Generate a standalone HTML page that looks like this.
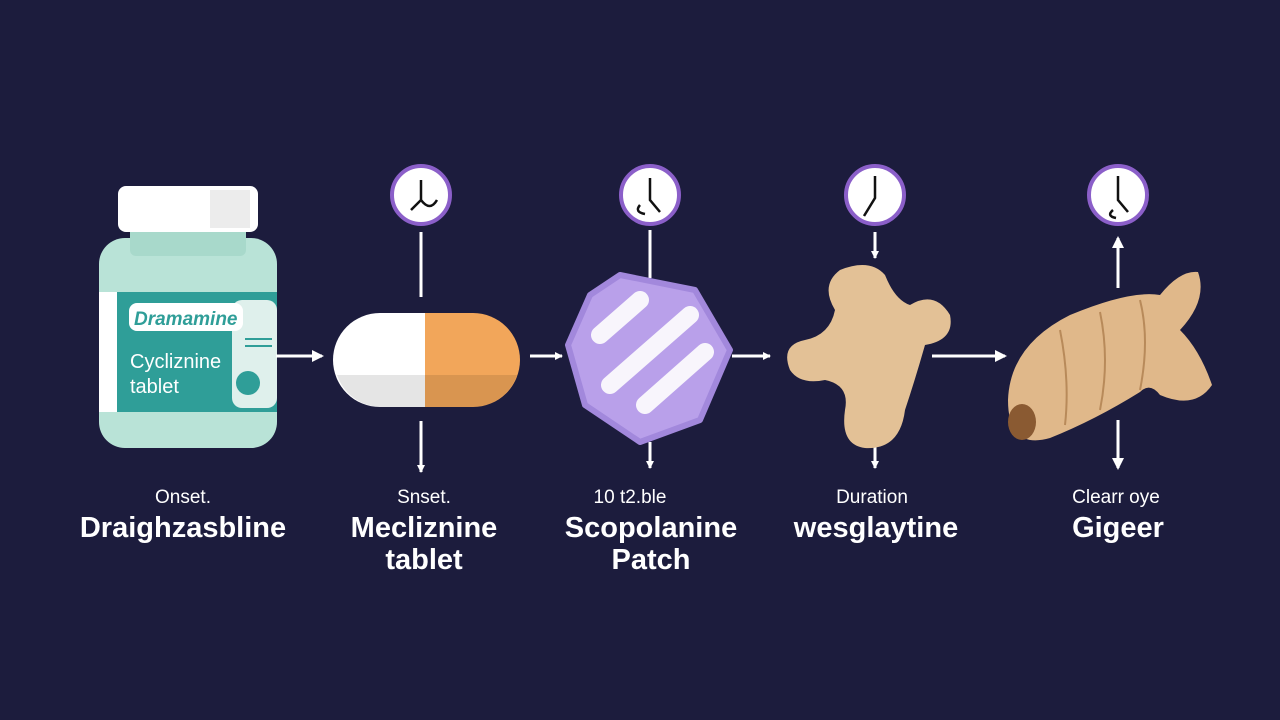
<!DOCTYPE html>
<html><head><style>
html,body{margin:0;padding:0;background:#1c1c3d;}
svg{display:block}
text{font-family:"Liberation Sans",sans-serif;fill:#fff}
</style></head><body>
<svg width="1280" height="720" viewBox="0 0 1280 720">
<defs>
<marker id="ah" markerWidth="8" markerHeight="8" refX="7" refY="4" orient="auto" markerUnits="userSpaceOnUse"><path d="M0,0 L8,4 L0,8 Z" fill="#fff"/></marker>
<marker id="ah2" markerWidth="12" markerHeight="12" refX="10" refY="6" orient="auto" markerUnits="userSpaceOnUse"><path d="M0,0 L12,6 L0,12 Z" fill="#fff"/></marker>
</defs>
<rect width="1280" height="720" fill="#1c1c3d"/>
<!-- bottle -->
<rect x="99" y="238" width="178" height="210" rx="26" fill="#b9e3d7"/>
<rect x="130" y="226" width="116" height="30" rx="6" fill="#a8d9cb"/>
<rect x="118" y="186" width="140" height="46" rx="8" fill="#fff"/>
<rect x="210" y="190" width="40" height="38" fill="#ececec"/>
<rect x="99" y="292" width="18" height="120" fill="#fff"/>
<rect x="117" y="292" width="160" height="120" fill="#2f9e98"/>
<rect x="232" y="300" width="45" height="108" rx="10" fill="#dff0ec"/>
<rect x="129" y="303" width="114" height="28" rx="8" fill="#fff"/>
<text x="134" y="325" font-size="19" font-style="italic" font-weight="bold" style="fill:#2f9e98">Dramamine</text>
<text x="130" y="368" font-size="20">Cycliznine</text>
<text x="130" y="393" font-size="20">tablet</text>
<line x1="245" y1="339" x2="272" y2="339" stroke="#2f9e98" stroke-width="2"/>
<line x1="245" y1="346" x2="272" y2="346" stroke="#2f9e98" stroke-width="2"/>
<circle cx="248" cy="383" r="12" fill="#2f9e98"/>
<line x1="276" y1="356" x2="322" y2="356" stroke="#fff" stroke-width="3" marker-end="url(#ah2)"/>
<!-- pill -->
<path d="M380,313 H425 V407 H380 A47,47 0 0 1 380,313 Z" fill="#fff"/>
<path d="M425,313 H473 A47,47 0 0 1 473,407 H425 Z" fill="#f2a65a"/>
<path d="M337,375 A47,47 0 0 0 380,407 H473 A47,47 0 0 0 517,375 Z" fill="#000" opacity="0.1"/>
<!-- clocks -->
<g fill="#fff" stroke="#8b5fc9" stroke-width="4">
<circle cx="421" cy="195" r="29"/><circle cx="650" cy="195" r="29"/><circle cx="875" cy="195" r="29"/><circle cx="1118" cy="195" r="29"/>
</g>
<g stroke="#111" stroke-width="2.5" fill="none">
<path d="M421,180 V200 L411,210 M421,200 Q430,212 437,200"/>
<path d="M650,178 V200 L660,212 M640,205 Q634,212 645,214"/>
<path d="M875,176 V198 L864,216"/>
<path d="M1118,176 V200 L1128,212 M1113,210 Q1106,216 1116,218"/>
</g>
<!-- vertical connectors -->
<g stroke="#fff" stroke-width="3">
<line x1="421" y1="232" x2="421" y2="297"/>
<line x1="421" y1="421" x2="421" y2="472" marker-end="url(#ah)"/>
<line x1="650" y1="230" x2="650" y2="278"/>
<line x1="650" y1="442" x2="650" y2="468" marker-end="url(#ah)"/>
<line x1="875" y1="232" x2="875" y2="258" marker-end="url(#ah)"/>
<line x1="875" y1="440" x2="875" y2="468" marker-end="url(#ah)"/>
<line x1="1118" y1="288" x2="1118" y2="238" marker-end="url(#ah2)"/>
<line x1="1118" y1="420" x2="1118" y2="468" marker-end="url(#ah2)"/>
<line x1="530" y1="356" x2="562" y2="356" marker-end="url(#ah)"/>
<line x1="732" y1="356" x2="770" y2="356" marker-end="url(#ah)"/>
<line x1="932" y1="356" x2="1005" y2="356" marker-end="url(#ah2)"/>
</g>
<!-- hexagon patch -->
<path d="M620,275 L695,290 L730,350 L700,420 L640,442 L585,405 L568,345 L590,295 Z" fill="#b9a0ea" stroke="#a288dc" stroke-width="6" stroke-linejoin="round"/>
<g stroke="#fff" stroke-width="18" stroke-linecap="round" opacity="0.9">
<line x1="600" y1="335" x2="640" y2="300"/>
<line x1="610" y1="385" x2="690" y2="315"/>
<line x1="645" y1="405" x2="705" y2="352"/>
</g>
<!-- ginger 1 -->
<path d="M840,270 Q870,258 885,275 Q895,300 910,305 Q935,290 950,315 Q955,340 925,345 Q915,380 905,410 Q900,450 865,448 Q840,445 845,410 Q850,385 825,380 Q800,385 790,370 Q780,345 805,340 Q830,335 835,310 Q820,285 840,270 Z" fill="#e3c196"/>
<!-- ginger 2 -->
<path d="M1008,400 Q1010,345 1070,315 Q1130,290 1160,295 Q1180,270 1198,272 Q1208,300 1180,330 Q1200,350 1212,385 Q1195,410 1160,395 Q1150,382 1140,392 Q1095,420 1050,438 Q1008,450 1008,400 Z" fill="#e0b88a"/>
<g stroke="#b88a5a" stroke-width="2" fill="none">
<path d="M1060,330 Q1070,380 1065,425"/><path d="M1100,312 Q1110,360 1100,410"/><path d="M1140,300 Q1150,340 1140,390"/>
</g>
<ellipse cx="1022" cy="422" rx="14" ry="18" fill="#8a5a32"/>
<!-- labels -->
<g text-anchor="middle">
<text x="183" y="503" font-size="19">Onset.</text>
<text x="183" y="537" font-size="29" font-weight="bold">Draighzasbline</text>
<text x="424" y="503" font-size="19">Snset.</text>
<text x="424" y="537" font-size="29" font-weight="bold">Mecliznine</text>
<text x="424" y="569" font-size="29" font-weight="bold">tablet</text>
<text x="630" y="503" font-size="19">10 t2.ble</text>
<text x="651" y="537" font-size="29" font-weight="bold">Scopolanine</text>
<text x="651" y="569" font-size="29" font-weight="bold">Patch</text>
<text x="872" y="503" font-size="19">Duration</text>
<text x="876" y="537" font-size="29" font-weight="bold">wesglaytine</text>
<text x="1116" y="503" font-size="19">Clearr oye</text>
<text x="1118" y="537" font-size="29" font-weight="bold">Gigeer</text>
</g>
</svg>
</body></html>
